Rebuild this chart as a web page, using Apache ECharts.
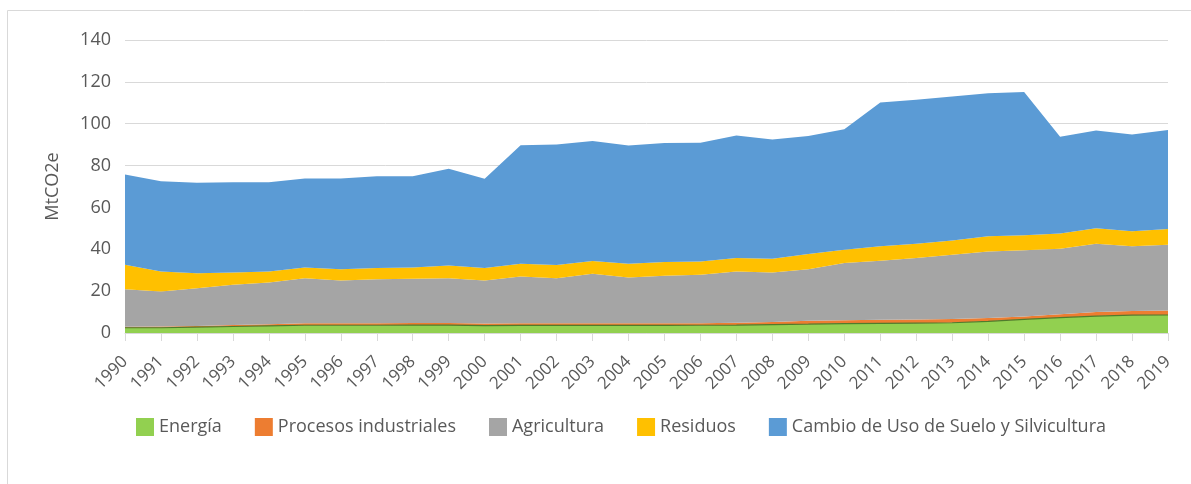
<!DOCTYPE html>
<html>
<head>
<meta charset="utf-8">
<title>Emisiones MtCO2e</title>
<script src="https://cdn.jsdelivr.net/npm/echarts@6/dist/echarts.min.js"></script>
<style>
  html, body { margin: 0; padding: 0; background: #fff; }
  #chart { width: 1191px; height: 484px; }
</style>
</head>
<body>
<div id="chart"></div>
<script>
const years = ['1990','1991','1992','1993','1994','1995','1996','1997','1998','1999',
  '2000','2001','2002','2003','2004','2005','2006','2007','2008','2009',
  '2010','2011','2012','2013','2014','2015','2016','2017','2018','2019']

const energia = [2.5,2.5,2.8,3.1,3.4,3.7,3.7,3.7,3.8,3.8,3.5,3.6,3.6,3.6,3.6,3.6,3.7,3.8,4.0,4.2,4.5,4.6,4.7,4.9,5.6,6.5,7.3,8.1,8.5,8.6]
const procesos = [0.5,0.6,0.6,0.7,0.8,0.9,0.9,0.9,1.0,1.0,1.0,1.0,1.0,1.0,1.0,1.0,1.0,1.1,1.3,1.6,1.6,1.7,1.7,1.8,1.6,1.4,1.7,1.9,2.0,2.1]
const agricultura = [17.9,16.7,18.0,19.2,19.9,21.6,20.5,21.1,21.1,21.4,20.6,22.4,21.6,23.7,21.9,22.7,23.1,24.5,23.6,24.7,27.3,28.2,29.4,30.7,31.8,31.6,31.3,32.7,30.9,31.5]
const residuos = [11.7,9.6,7.2,5.9,5.3,5.1,5.4,5.3,5.4,6.1,5.9,6.1,6.3,6.1,6.6,6.6,6.4,6.4,6.6,7.2,6.4,6.9,6.9,6.8,7.2,7.2,7.2,7.3,7.2,7.5]
const cambioUso = [43.1,43.1,43.2,43.1,42.6,42.5,43.3,43.9,43.6,46.2,42.7,56.6,57.6,57.3,56.5,56.9,56.7,58.6,57.0,56.4,57.5,68.7,68.7,68.8,68.4,68.5,46.3,46.8,46.3,47.3]

const seriesNames = ['Energía', 'Procesos industriales', 'Agricultura', 'Residuos', 'Cambio de Uso de Suelo y Silvicultura']
const seriesColors = ['#92D050', '#ED7D31', '#A5A5A5', '#FFC000', '#5B9BD5']
const seriesData = [energia, procesos, agricultura, residuos, cambioUso]

const chart = echarts.init(document.getElementById('chart'))

const textColor = '#595959'
const fontName = 'Open Sans'

const option = {
  animation: false,
  color: seriesColors,
  graphic: [{
    type: 'rect',
    shape: { x: 7.5, y: 10.5, width: 1250, height: 600 },
    style: { fill: 'none', stroke: '#D9D9D9', lineWidth: 1 },
    silent: true
  }],
  grid: {
    left: 125,
    right: 23,
    top: 40,
    bottom: 151
  },
  legend: {
    left: 131,
    top: 413,
    itemWidth: 18,
    itemHeight: 18,
    itemGap: 33,
    icon: 'rect',
    textStyle: { color: textColor, fontSize: 18, fontFamily: fontName },
    data: seriesNames
  },
  xAxis: {
    type: 'category',
    boundaryGap: false,
    data: years,
    axisLine: { lineStyle: { color: '#D9D9D9' } },
    axisTick: { show: true, length: 8, lineStyle: { color: '#D9D9D9' } },
    axisLabel: {
      rotate: 45,
      margin: 26,
      interval: 0,
      color: textColor,
      fontSize: 17,
      fontFamily: fontName
    },
    splitLine: { show: false }
  },
  yAxis: {
    type: 'value',
    min: 0,
    max: 140,
    interval: 20,
    name: 'MtCO2e',
    nameLocation: 'middle',
    nameGap: 63,
    nameTextStyle: { color: textColor, fontSize: 18, fontFamily: fontName },
    axisLine: { show: false },
    axisTick: { show: false },
    axisLabel: { color: textColor, fontSize: 18, fontFamily: fontName, margin: 14 },
    splitLine: { lineStyle: { color: '#D9D9D9', width: 1 } }
  },
  series: seriesNames.map((name, i) => ({
    name: name,
    type: 'line',
    stack: 'total',
    data: seriesData[i],
    showSymbol: false,
    symbol: 'none',
    // solo energia lleva borde oscuro
    lineStyle: i === 0 ? { color: '#4F7B2C', width: 1.2 } : { width: 0 },
    itemStyle: { color: seriesColors[i] },
    areaStyle: { color: seriesColors[i], opacity: 1 },
    z: 2
  }))
}

chart.setOption(option)
</script>
</body>
</html>
